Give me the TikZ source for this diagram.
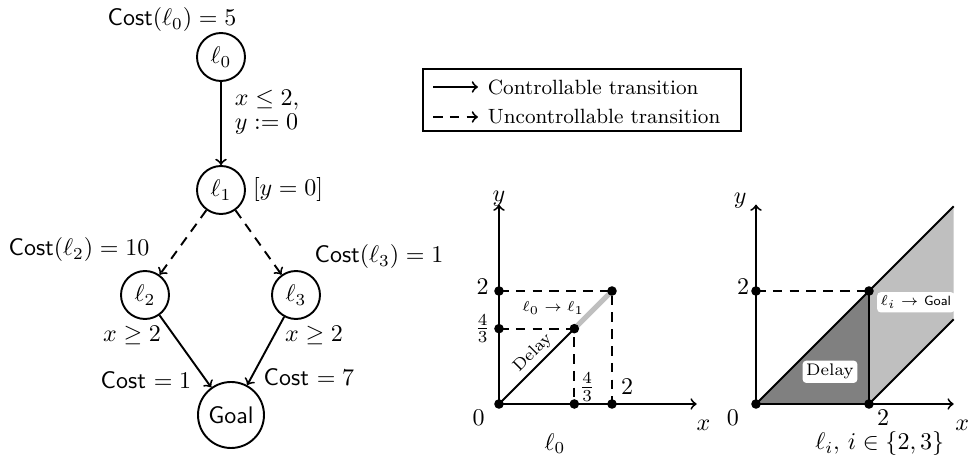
\documentclass[tikz,border=0pt]{standalone}
\usepackage{amsmath,amssymb}
\begin{document}
\begin{tikzpicture}[x=0.4167pt,y=-0.4167pt,
  loc/.style={circle,draw,thick,minimum size=20pt,inner sep=0pt},
  goalloc/.style={circle,draw,thick,minimum size=27.5pt,inner sep=0pt},
  ctrl/.style={thick,->},
  unctrl/.style={thick,->,dash pattern=on 4pt off 3pt},
  dot/.style={circle,fill=black,inner sep=0pt,minimum size=4pt},
  lbl/.style={inner sep=1pt},
  boxlbl/.style={fill=white,rounded corners=1.5pt,inner sep=1.5pt}]
\useasboundingbox (0,0) rectangle (969,465);
% automaton
\node[loc] (l0) at (221,57) {$\ell_0$};
\node[loc] (l1) at (221,190) {$\ell_1$};
\node[loc] (l2) at (145,295) {$\ell_2$};
\node[loc] (l3) at (296,295) {$\ell_3$};
\node[goalloc] (goal) at (231,415) {\textsf{Goal}};
\draw[ctrl] (l0) -- (l1);
\draw[unctrl] (l1) -- (l2);
\draw[unctrl] (l1) -- (l3);
\draw[ctrl] (l2) -- (goal);
\draw[ctrl] (l3) -- (goal);
\node[lbl] (c0) at (172,20) {\textsf{Cost}$(\ell_0) = 5$};
\node[lbl,anchor=west] (g1) at (232,100) {$x \leq 2,$};
\node[lbl,anchor=west] (g2) at (232,124) {$y := 0$};
\node[lbl] (inv) at (288,190) {$[y = 0]$};
\node[lbl] (c2) at (79,250) {\textsf{Cost}$(\ell_2) = 10$};
\node[lbl] (c3) at (379,257) {\textsf{Cost}$(\ell_3) = 1$};
\node[lbl] (gl2) at (132,335) {$x \geq 2$};
\node[lbl] (gl3) at (314,335) {$x \geq 2$};
\node[lbl] (cg2) at (146,380) {\textsf{Cost} $= 1$};
\node[lbl] (cg3) at (309,377) {\textsf{Cost} $= 7$};
% legend
\draw[thick] (423,69) rectangle (741,131);
\coordinate (la1) at (433,87); \coordinate (lb1) at (478,87);
\coordinate (la2) at (433,117); \coordinate (lb2) at (478,117);
\draw[ctrl] (la1) -- (lb1);
\draw[unctrl] (la2) -- (lb2);
\node[lbl,anchor=west] (lt1) at (485,87) {\fontsize{8.6}{10}\selectfont Controllable transition};
\node[lbl,anchor=west] (lt2) at (485,117) {\fontsize{8.6}{10}\selectfont Uncontrollable transition};
% plot 1
\begin{scope}[shift={(499,404)}]
\begin{scope}[x=23.54pt,y=23.54pt]
\draw[line width=2.2pt,black!25] (4/3,4/3) -- (2,2);
\draw[thick] (0,0) -- (4/3,4/3);
\draw[thick,dash pattern=on 4pt off 3pt] (0,2) -- (2,2) -- (2,0);
\draw[thick,dash pattern=on 4pt off 3pt] (0,4/3) -- (4/3,4/3) -- (4/3,0);
\draw[thick,->] (0,0) -- (3.5,0);
\draw[thick,->] (0,0) -- (0,3.53);
\foreach \p in {(0,0),(0,4/3),(0,2),(4/3,0),(2,0),(4/3,4/3),(2,2)} \node[dot] at \p {};
\node (p1y) at (0,3.64) {$y$};
\node (p1x) at (3.62,-0.37) {$x$};
\node (p1o) at (-0.36,-0.25) {$0$};
\node (p1l) at (0.99,-0.7) {$\ell_0$};
\node (p1y2) at (-0.29,2.08) {$2$};
\node (p1y43) at (-0.29,4/3) {$\frac{4}{3}$};
\node (p1x43) at (1.56,0.3) {$\frac{4}{3}$};
\node (p1x2) at (2.27,0.3) {$2$};
\node (p1t) at (0.96,1.7) {\fontsize{6}{7}\selectfont $\ell_0 \rightarrow \ell_1$};
\node[rotate=45,inner sep=0.5pt] (p1d) at (0.6,0.9) {\fontsize{7}{8}\selectfont Delay};
\end{scope}
\end{scope}
% plot 2
\begin{scope}[shift={(756,404)}]
\begin{scope}[x=23.54pt,y=23.54pt]
\fill[black!25] (2,0) -- (3.5,1.5) -- (3.5,3.5) -- (2,2) -- cycle;
\fill[black!50] (0,0) -- (2,0) -- (2,2) -- cycle;
\draw[thick] (0,0) -- (3.5,3.5);
\draw[thick] (2,0) -- (3.5,1.5);
\draw[thick,->] (0,0) -- (3.5,0);
\draw[thick,->] (0,0) -- (0,3.53);
\draw[line width=1.2pt] (0,0) -- (2,0) -- (2,2);
\draw[thick,dash pattern=on 4pt off 3pt] (0,2) -- (2,2);
\foreach \p in {(0,0),(0,2),(2,0),(2,2)} \node[dot] at \p {};
\node (p2y) at (-0.28,3.6) {$y$};
\node (p2x) at (3.65,-0.37) {$x$};
\node (p2o) at (-0.41,-0.25) {$0$};
\node (p2x2) at (2.25,-0.25) {$2$};
\node (p2y2) at (-0.23,2.08) {$2$};
\node (p2l) at (2.19,-0.7) {$\ell_i,\, i \in \{2,3\}$};
\node[boxlbl] (p2d) at (1.31,0.57) {\scriptsize Delay};
\node[boxlbl] (p2g) at (2.83,1.8) {\fontsize{5.6}{7}\selectfont $\ell_i \rightarrow$ \textsf{Goal}};
\end{scope}
\end{scope}
\end{tikzpicture}
\end{document}
